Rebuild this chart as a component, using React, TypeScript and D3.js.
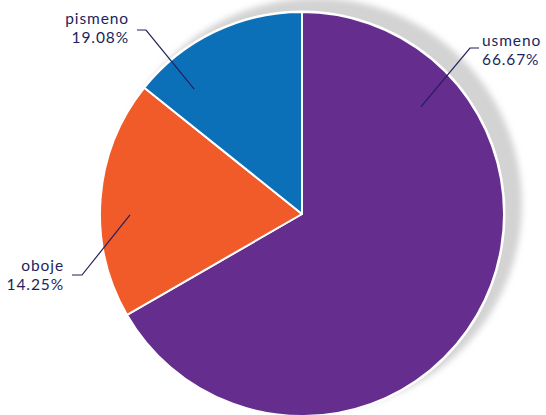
import React from "react";
import * as d3 from "d3";

const categories = ["usmeno", "oboje", "pismeno"];
const values = [66.67, 19.08, 14.25];
const labelPercents = ["66.67%", "14.25%", "19.08%"];
const colors = ["#652d8e", "#f15a29", "#0c70b8"];
// label anchor angles (deg, clockwise from top) and radii
const anchorAngles = [48, 269.7, -40.8];
const anchorRadii = [160, 172, 165];

const W = 546, H = 415;
const cx = 302, cy = 214, R = 202;

export default function App() {
  const pie = d3.pie<number>().sort(null).startAngle(0).endAngle(2 * Math.PI)
    .value((d) => d)(values);
  const arc = d3.arc<d3.PieArcDatum<number>>().innerRadius(0).outerRadius(R);
  const textColor = "#221f5c";
  const font = { fontFamily: "Lato, sans-serif", fontSize: 15.5, letterSpacing: 0.9 };

  return (
    <svg width={W} height={H} style={{ position: "absolute", left: 0, top: 0 }}>
      <defs>
        <filter id="blur" x="-20%" y="-20%" width="140%" height="140%">
          <feGaussianBlur stdDeviation="3" />
        </filter>
      </defs>
      <circle cx={cx + 14} cy={cy - 10} r={R + 4} fill="#d3d3d3" filter="url(#blur)" />
      <circle cx={cx} cy={cy} r={R + 1.5} fill="#ffffff" />
      <g transform={`translate(${cx},${cy})`}>
        {pie.map((p, i) => (
          <path key={i} d={arc(p) || ""} fill={colors[i]} stroke="#ffffff" strokeWidth={2} strokeLinejoin="round" />
        ))}
      </g>
      {categories.map((c, i) => {
        const [ax, ay] = d3.pointRadial((anchorAngles[i] * Math.PI) / 180, anchorRadii[i]);
        const ex = cx + ax, ey = cy + ay;
        let bx: number, by: number, hx: number, tx: number, anchor: string;
        if (i === 0) { bx = 470; by = 48; hx = bx + 9; tx = 482; anchor = "start"; }
        else if (i === 1) { bx = 82; by = 275; hx = bx - 10; tx = 64; anchor = "end"; }
        else { bx = 146; by = 30; hx = bx - 9; tx = 129; anchor = "end"; }
        const baseY = i === 0 ? 46 : i === 1 ? 271 : 24;
        return (
          <g key={c}>
            <polyline points={`${ex},${ey} ${bx},${by} ${hx},${by}`} fill="none" stroke={textColor} strokeWidth={1.2} />
            <text x={tx} y={baseY} textAnchor={anchor} fill={textColor} style={font}>{c}</text>
            <text x={tx} y={baseY + 19} textAnchor={anchor} fill={textColor} style={font}>{labelPercents[i]}</text>
          </g>
        );
      })}
    </svg>
  );
}
